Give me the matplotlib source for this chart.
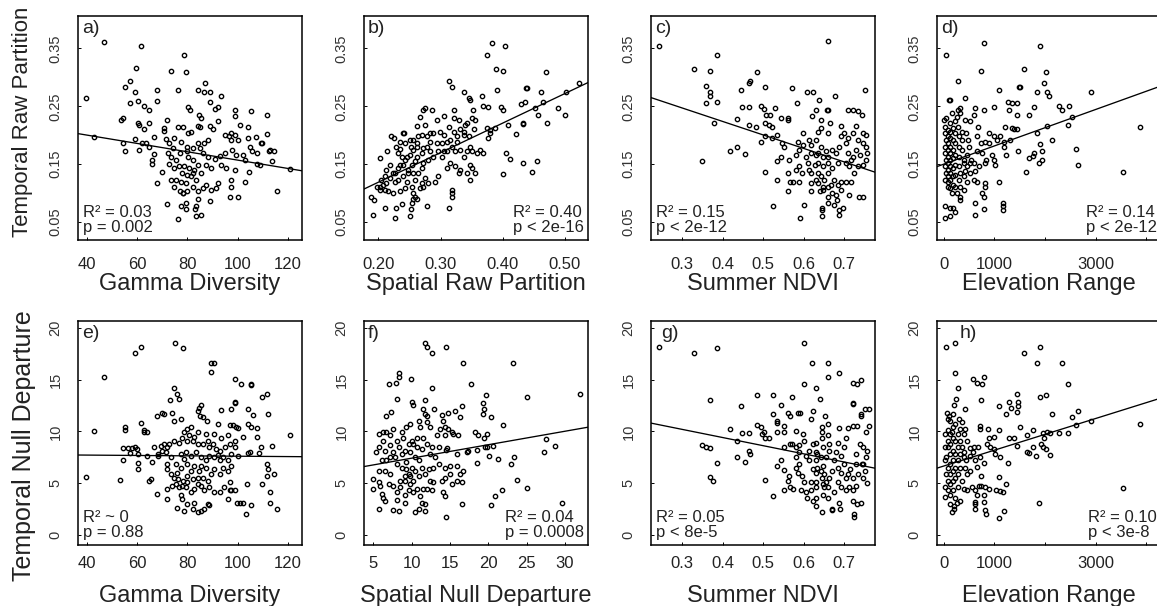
"""
Temporal vs spatial partition scatter grid (8 panels, regression lines)
"""

import matplotlib.pyplot as plt
import numpy as np

plt.rcParams['font.family'] = ['Liberation Sans', 'DejaVu Sans']

# --- data (x, y) ---
pts_a = np.array([
    (39.5, 0.264), (42.7, 0.197), (46.8, 0.361), (55.2, 0.284), (57.2, 0.294), (59.5, 0.316), (59.2, 0.274),
    (57.2, 0.255), (60.3, 0.259), (61.5, 0.355), (62.6, 0.250), (64.6, 0.244), (67.7, 0.279), (67.7, 0.260),
    (53.5, 0.226), (54.3, 0.229), (60.3, 0.221), (60.5, 0.218), (62.6, 0.210), (64.6, 0.221), (54.3, 0.186),
    (55.2, 0.172), (59.2, 0.193), (60.5, 0.174), (61.8, 0.186), (63.5, 0.186), (64.6, 0.180), (66.6, 0.197),
    (66.8, 0.168), (65.9, 0.157), (65.9, 0.150), (67.7, 0.117), (70.0, 0.136), (71.8, 0.226), (70.7, 0.212),
    (70.7, 0.208), (73.3, 0.311), (76.2, 0.279), (78.5, 0.339), (79.3, 0.310), (72.0, 0.082), (76.2, 0.055),
    (77.5, 0.077), (79.5, 0.072), (79.5, 0.083), (83.5, 0.060), (85.5, 0.063), (83.5, 0.077), (82.8, 0.072),
    (88.9, 0.086), (78.1, 0.100), (84.1, 0.090), (96.9, 0.094), (100.2, 0.093), (115.7, 0.104), (120.9, 0.142),
    (111.5, 0.235), (111.5, 0.202), (105.2, 0.242), (99.1, 0.244), (99.1, 0.233), (101.1, 0.218), (104.1, 0.215),
    (93.4, 0.267), (92.3, 0.248), (91.0, 0.246), (89.0, 0.258), (87.0, 0.290), (89.0, 0.275), (86.6, 0.275),
    (84.3, 0.279), (80.3, 0.249), (81.0, 0.244), (84.6, 0.235), (85.5, 0.229), (90.2, 0.210), (89.1, 0.216),
    (92.3, 0.225), (85.1, 0.215), (84.0, 0.216), (80.3, 0.203), (81.2, 0.205), (78.1, 0.214), (76.2, 0.215),
    (74.8, 0.195), (77.5, 0.189), (72.8, 0.186), (71.5, 0.193), (74.2, 0.178), (72.2, 0.169), (73.5, 0.163),
    (75.5, 0.157), (72.8, 0.151), (77.0, 0.169), (79.7, 0.172), (80.3, 0.163), (82.3, 0.157), (84.3, 0.186),
    (85.0, 0.178), (86.3, 0.169), (88.3, 0.163), (91.0, 0.159), (93.0, 0.164), (95.0, 0.170), (97.7, 0.175),
    (96.4, 0.198), (95.0, 0.201), (98.9, 0.201), (100.3, 0.192), (102.3, 0.166), (104.9, 0.180), (105.6, 0.172),
    (107.2, 0.197), (109.3, 0.186), (109.6, 0.187), (112.3, 0.172), (114.6, 0.172), (113.6, 0.155), (108.9, 0.149),
    (107.6, 0.151), (104.4, 0.136), (102.8, 0.120), (99.1, 0.140), (97.4, 0.123), (97.2, 0.110), (92.0, 0.118),
    (91.4, 0.108), (89.4, 0.106), (87.3, 0.114), (85.4, 0.134), (83.4, 0.123), (81.3, 0.129), (79.3, 0.117),
    (77.3, 0.120), (75.3, 0.123), (73.3, 0.123), (74.6, 0.111), (77.1, 0.103), (78.4, 0.101), (80.0, 0.103),
    (82.0, 0.111), (84.0, 0.103), (86.0, 0.108), (87.4, 0.149), (89.4, 0.143), (93.4, 0.149), (95.4, 0.143),
    (99.4, 0.166), (78.7, 0.146), (80.7, 0.143), (82.7, 0.140), (84.0, 0.149), (78.0, 0.134), (80.0, 0.131),
    (82.0, 0.134), (76.7, 0.146), (74.6, 0.143), (80.0, 0.180), (82.0, 0.178), (86.6, 0.186), (88.0, 0.192),
    (97.4, 0.192), (97.2, 0.203), (104.1, 0.195), (112.8, 0.175), (107.6, 0.169), (102.9, 0.157),
])

pts_b = np.array([
    (0.191, 0.063), (0.193, 0.088), (0.189, 0.094), (0.211, 0.074), (0.227, 0.057), (0.228, 0.074), (0.238, 0.081),
    (0.251, 0.060), (0.252, 0.072), (0.254, 0.083), (0.256, 0.090), (0.279, 0.077), (0.314, 0.074), (0.318, 0.106),
    (0.318, 0.100), (0.318, 0.094), (0.198, 0.111), (0.203, 0.106), (0.211, 0.106), (0.216, 0.103), (0.224, 0.100),
    (0.235, 0.103), (0.243, 0.109), (0.256, 0.100), (0.259, 0.094), (0.262, 0.090), (0.267, 0.109), (0.272, 0.111),
    (0.202, 0.160), (0.214, 0.173), (0.221, 0.198), (0.225, 0.196), (0.240, 0.203), (0.242, 0.203), (0.235, 0.189),
    (0.243, 0.186), (0.229, 0.180), (0.219, 0.149), (0.213, 0.140), (0.211, 0.130), (0.219, 0.126), (0.227, 0.120),
    (0.224, 0.134), (0.231, 0.143), (0.240, 0.149), (0.238, 0.163), (0.246, 0.163), (0.251, 0.166), (0.256, 0.175),
    (0.252, 0.180), (0.262, 0.186), (0.264, 0.198), (0.270, 0.201), (0.278, 0.198), (0.283, 0.203), (0.288, 0.203),
    (0.275, 0.218), (0.262, 0.216), (0.267, 0.232), (0.272, 0.244), (0.275, 0.247), (0.286, 0.244), (0.294, 0.226),
    (0.306, 0.233), (0.313, 0.214), (0.321, 0.244), (0.321, 0.229), (0.329, 0.226), (0.331, 0.210), (0.337, 0.206),
    (0.339, 0.218), (0.342, 0.221), (0.353, 0.210), (0.355, 0.226), (0.350, 0.229), (0.352, 0.244), (0.347, 0.261),
    (0.345, 0.264), (0.338, 0.275), (0.313, 0.294), (0.318, 0.284), (0.366, 0.267), (0.369, 0.251), (0.377, 0.249),
    (0.390, 0.278), (0.374, 0.339), (0.382, 0.360), (0.403, 0.355), (0.389, 0.315), (0.401, 0.311), (0.397, 0.248),
    (0.401, 0.244), (0.409, 0.218), (0.388, 0.212), (0.380, 0.209), (0.374, 0.212), (0.406, 0.170), (0.412, 0.159),
    (0.401, 0.133), (0.433, 0.152), (0.447, 0.136), (0.455, 0.156), (0.422, 0.202), (0.432, 0.222), (0.433, 0.219),
    (0.429, 0.254), (0.436, 0.258), (0.437, 0.281), (0.439, 0.281), (0.461, 0.275), (0.470, 0.310), (0.471, 0.222),
    (0.457, 0.235), (0.452, 0.247), (0.464, 0.258), (0.489, 0.247), (0.500, 0.235), (0.502, 0.274), (0.523, 0.290),
    (0.363, 0.175), (0.369, 0.169), (0.380, 0.203), (0.377, 0.195), (0.358, 0.169), (0.350, 0.172), (0.347, 0.149),
    (0.350, 0.143), (0.331, 0.140), (0.329, 0.134), (0.323, 0.146), (0.315, 0.152), (0.310, 0.143), (0.302, 0.163),
    (0.305, 0.172), (0.296, 0.172), (0.288, 0.163), (0.283, 0.172), (0.280, 0.157), (0.272, 0.152), (0.270, 0.143),
    (0.264, 0.134), (0.256, 0.134), (0.248, 0.134), (0.240, 0.130), (0.232, 0.123), (0.227, 0.134), (0.296, 0.129),
    (0.291, 0.120), (0.280, 0.117), (0.275, 0.126), (0.270, 0.117), (0.310, 0.172), (0.310, 0.189), (0.302, 0.186),
    (0.294, 0.186), (0.305, 0.201), (0.315, 0.192), (0.318, 0.180), (0.323, 0.172), (0.331, 0.175), (0.337, 0.163),
    (0.342, 0.172), (0.347, 0.180), (0.326, 0.189), (0.326, 0.198), (0.337, 0.201), (0.345, 0.198), (0.321, 0.206),
    (0.299, 0.206), (0.283, 0.189), (0.278, 0.180), (0.272, 0.178), (0.270, 0.169), (0.262, 0.163), (0.259, 0.155),
    (0.254, 0.149), (0.248, 0.140), (0.243, 0.157), (0.235, 0.149), (0.232, 0.169), (0.235, 0.176), (0.251, 0.192),
    (0.256, 0.192), (0.262, 0.180), (0.355, 0.134), (0.347, 0.123), (0.342, 0.134), (0.246, 0.120), (0.254, 0.111),
    (0.259, 0.123), (0.213, 0.118), (0.208, 0.114), (0.205, 0.123), (0.202, 0.111),
])

pts_c = np.array([
    (0.242, 0.355), (0.329, 0.315), (0.368, 0.311), (0.387, 0.339), (0.358, 0.285), (0.368, 0.274), (0.369, 0.267),
    (0.387, 0.258), (0.358, 0.255), (0.378, 0.222), (0.350, 0.156), (0.417, 0.172), (0.436, 0.180), (0.454, 0.168),
    (0.436, 0.228), (0.446, 0.279), (0.465, 0.291), (0.467, 0.294), (0.484, 0.310), (0.504, 0.283), (0.447, 0.249),
    (0.465, 0.248), (0.465, 0.218), (0.483, 0.215), (0.494, 0.251), (0.502, 0.246), (0.506, 0.235), (0.518, 0.235),
    (0.530, 0.247), (0.504, 0.221), (0.514, 0.218), (0.522, 0.215), (0.494, 0.189), (0.504, 0.198), (0.522, 0.195),
    (0.533, 0.201), (0.543, 0.229), (0.561, 0.229), (0.562, 0.226), (0.572, 0.281), (0.583, 0.256), (0.609, 0.275),
    (0.622, 0.275), (0.638, 0.261), (0.659, 0.362), (0.657, 0.244), (0.659, 0.244), (0.678, 0.267), (0.630, 0.244),
    (0.620, 0.233), (0.642, 0.227), (0.664, 0.222), (0.693, 0.216), (0.709, 0.244), (0.722, 0.243), (0.734, 0.242),
    (0.743, 0.235), (0.751, 0.279), (0.730, 0.216), (0.504, 0.136), (0.523, 0.077), (0.533, 0.123), (0.547, 0.186),
    (0.552, 0.180), (0.535, 0.155), (0.543, 0.163), (0.562, 0.134), (0.565, 0.120), (0.562, 0.103), (0.573, 0.120),
    (0.591, 0.057), (0.600, 0.080), (0.589, 0.120), (0.597, 0.134), (0.618, 0.118), (0.581, 0.166), (0.589, 0.175),
    (0.585, 0.189), (0.598, 0.203), (0.598, 0.183), (0.614, 0.192), (0.606, 0.163), (0.610, 0.152), (0.614, 0.140),
    (0.627, 0.149), (0.635, 0.134), (0.635, 0.117), (0.639, 0.103), (0.647, 0.111), (0.644, 0.074), (0.644, 0.061),
    (0.645, 0.070), (0.659, 0.083), (0.661, 0.094), (0.676, 0.080), (0.682, 0.088), (0.688, 0.071), (0.698, 0.074),
    (0.688, 0.063), (0.669, 0.101), (0.680, 0.097), (0.692, 0.106), (0.713, 0.097), (0.736, 0.094), (0.746, 0.094),
    (0.635, 0.206), (0.642, 0.212), (0.630, 0.192), (0.642, 0.180), (0.655, 0.172), (0.659, 0.203), (0.659, 0.163),
    (0.659, 0.152), (0.659, 0.134), (0.671, 0.143), (0.680, 0.169), (0.688, 0.180), (0.692, 0.198), (0.700, 0.203),
    (0.705, 0.186), (0.709, 0.169), (0.705, 0.152), (0.713, 0.146), (0.721, 0.163), (0.730, 0.175), (0.733, 0.192),
    (0.746, 0.203), (0.754, 0.201), (0.754, 0.180), (0.756, 0.169), (0.754, 0.157), (0.746, 0.149), (0.733, 0.146),
    (0.725, 0.134), (0.717, 0.120), (0.705, 0.120), (0.692, 0.120), (0.684, 0.114), (0.676, 0.123), (0.667, 0.114),
    (0.651, 0.123), (0.647, 0.146), (0.635, 0.152), (0.618, 0.169), (0.647, 0.163), (0.630, 0.166), (0.618, 0.183),
    (0.635, 0.169), (0.589, 0.146), (0.581, 0.140), (0.564, 0.157), (0.618, 0.134), (0.630, 0.123), (0.642, 0.129),
    (0.659, 0.111), (0.647, 0.106), (0.618, 0.103), (0.746, 0.186), (0.738, 0.166), (0.717, 0.157), (0.709, 0.195),
    (0.721, 0.203), (0.684, 0.152), (0.671, 0.175),
])

pts_d = np.array([
    (53, 0.339), (790, 0.360), (1895, 0.355), (744, 0.311), (276, 0.294), (112, 0.261), (1579, 0.315),
    (2020, 0.310), (1974, 0.290), (1842, 0.275), (2040, 0.275), (2072, 0.267), (1480, 0.283), (1500, 0.284),
    (1086, 0.279), (2908, 0.275), (3869, 0.215), (3533, 0.136), (2645, 0.149), (2619, 0.176), (2139, 0.192),
    (1908, 0.185), (1941, 0.172), (1776, 0.169), (1763, 0.164), (1678, 0.160), (1941, 0.157), (1875, 0.152),
    (1632, 0.136), (1842, 0.203), (2040, 0.216), (1776, 0.249), (1678, 0.235), (1447, 0.235), (1447, 0.255),
    (1349, 0.256), (1263, 0.258), (1283, 0.244), (1447, 0.210), (1349, 0.212), (1217, 0.214), (1382, 0.210),
    (1316, 0.192), (1461, 0.172), (1237, 0.166), (1184, 0.180), (1119, 0.198), (1184, 0.189), (1000, 0.248),
    (790, 0.244), (625, 0.247), (592, 0.235), (428, 0.264), (316, 0.247), (276, 0.244), (118, 0.261),
    (2270, 0.251), (2336, 0.244), (2467, 0.251), (2454, 0.218), (2533, 0.231), (888, 0.203), (987, 0.198),
    (1053, 0.192), (822, 0.189), (888, 0.186), (658, 0.199), (730, 0.186), (658, 0.172), (757, 0.169),
    (954, 0.166), (987, 0.157), (1020, 0.149), (1086, 0.120), (842, 0.157), (822, 0.152), (592, 0.152),
    (625, 0.138), (592, 0.123), (658, 0.120), (822, 0.117), (822, 0.111), (757, 0.100), (790, 0.094),
    (625, 0.083), (625, 0.063), (803, 0.072), (1171, 0.083), (1171, 0.077), (1171, 0.071), (33, 0.077),
    (118, 0.074), (33, 0.057), (132, 0.060), (184, 0.074), (217, 0.068), (329, 0.088), (263, 0.100),
    (164, 0.100), (79, 0.111), (329, 0.111), (395, 0.106), (461, 0.120), (526, 0.134), (461, 0.146),
    (526, 0.152), (395, 0.157), (329, 0.134), (428, 0.138), (13, 0.226), (33, 0.215), (33, 0.203),
    (53, 0.192), (33, 0.180), (33, 0.169), (53, 0.157), (33, 0.146), (53, 0.134), (33, 0.123),
    (79, 0.209), (79, 0.198), (79, 0.186), (79, 0.175), (79, 0.163), (79, 0.152), (79, 0.140),
    (79, 0.129), (79, 0.120), (132, 0.221), (132, 0.206), (132, 0.195), (132, 0.180), (132, 0.169),
    (132, 0.157), (132, 0.146), (132, 0.134), (132, 0.123), (132, 0.109), (184, 0.212), (184, 0.192),
    (184, 0.175), (184, 0.160), (184, 0.143), (184, 0.129), (184, 0.114), (230, 0.224), (230, 0.203),
    (230, 0.186), (230, 0.166), (230, 0.149), (230, 0.132), (230, 0.111), (263, 0.232), (276, 0.215),
    (296, 0.198), (296, 0.180), (296, 0.163), (296, 0.146), (296, 0.123), (329, 0.094), (362, 0.206),
    (362, 0.192), (362, 0.175), (395, 0.152), (395, 0.129), (448, 0.203), (474, 0.192), (494, 0.180),
    (461, 0.166), (540, 0.157), (513, 0.224), (428, 0.226), (329, 0.238), (164, 0.238), (53, 0.229),
    (671, 0.215), (691, 0.146),
])

pts_e = np.array([
    (39.5, 5.6), (42.7, 10.0), (46.8, 15.2), (53.2, 5.3), (54.2, 7.2), (54.2, 8.4), (55.2, 10.4),
    (55.2, 10.1), (56.5, 8.4), (57.8, 8.4), (59.2, 8.5), (59.9, 8.3), (60.3, 7.8), (60.3, 6.9),
    (60.3, 6.4), (57.2, 7.9), (61.5, 10.8), (62.6, 9.9), (63.9, 9.9), (62.6, 10.1), (63.9, 7.6),
    (64.6, 5.2), (65.5, 5.4), (65.9, 7.0), (66.6, 8.5), (67.7, 4.0), (67.7, 11.5), (70.0, 11.8),
    (70.6, 11.7), (73.0, 13.0), (74.6, 14.2), (74.0, 11.8), (74.9, 18.5), (78.3, 18.0), (59.2, 17.6),
    (61.5, 18.1), (75.7, 13.6), (76.6, 13.1), (77.3, 11.2), (74.6, 11.0), (72.0, 4.4), (72.0, 3.5),
    (76.0, 2.6), (78.7, 2.3), (82.0, 2.5), (84.0, 2.2), (85.4, 2.3), (86.7, 2.5), (88.1, 3.0),
    (88.7, 2.9), (82.7, 3.1), (80.0, 3.0), (78.0, 3.5), (77.3, 3.9), (89.4, 16.6), (90.5, 16.6),
    (89.4, 15.7), (98.8, 15.1), (101.2, 14.6), (105.2, 14.6), (105.2, 14.5), (109.5, 13.3), (111.5, 13.6),
    (112.2, 11.7), (104.2, 12.2), (106.2, 11.6), (98.8, 12.7), (99.1, 12.8), (97.4, 12.2), (93.4, 12.1),
    (85.4, 12.5), (84.7, 12.3), (84.0, 12.0), (85.1, 11.5), (86.0, 11.4), (87.8, 11.0), (92.0, 10.7),
    (96.8, 10.6), (98.1, 10.6), (99.2, 10.4), (100.1, 10.3), (104.2, 10.7), (105.2, 10.4), (107.5, 10.3),
    (107.5, 9.5), (102.1, 9.5), (96.1, 9.6), (93.4, 9.4), (90.7, 9.7), (87.4, 9.7), (84.0, 9.9),
    (81.3, 10.4), (80.0, 10.2), (80.7, 9.6), (78.7, 9.9), (82.4, 9.5), (120.9, 9.6), (113.6, 8.6),
    (109.2, 8.5), (104.8, 8.0), (104.2, 7.9), (108.5, 7.9), (111.5, 6.8), (112.2, 6.4), (114.6, 5.9),
    (111.5, 5.7), (109.5, 4.9), (112.9, 4.1), (112.8, 3.1), (115.7, 2.5), (103.5, 4.9), (103.2, 2.0),
    (100.8, 3.1), (102.1, 3.1), (105.2, 2.9), (99.8, 3.1), (96.1, 3.5), (97.4, 4.3), (98.8, 4.3),
    (96.8, 5.1), (96.8, 4.3), (94.5, 4.6), (92.8, 4.1), (90.7, 4.1), (88.7, 4.6), (86.7, 4.3),
    (85.4, 4.7), (84.0, 4.9), (82.7, 4.4), (81.3, 4.1), (79.3, 4.6), (78.0, 4.7), (76.6, 4.6),
    (75.3, 4.9), (74.0, 4.7), (74.6, 5.5), (73.3, 5.9), (72.0, 6.4), (72.0, 6.8), (73.3, 7.5),
    (71.3, 8.0), (72.0, 8.5), (72.6, 8.8), (70.6, 8.8), (69.3, 8.6), (70.0, 8.1), (68.2, 7.8),
    (68.2, 7.6), (74.6, 9.1), (76.6, 8.9), (78.0, 9.4), (80.0, 9.1), (82.0, 9.1), (84.0, 8.8),
    (86.0, 8.8), (88.1, 9.1), (90.1, 8.8), (91.4, 8.3), (92.8, 8.1), (94.8, 8.5), (96.8, 8.8),
    (98.8, 9.1), (98.8, 8.5), (97.4, 7.8), (96.1, 7.2), (97.4, 6.7), (96.1, 6.2), (94.1, 6.5),
    (92.8, 5.9), (90.7, 6.4), (89.4, 5.9), (88.1, 5.2), (86.0, 5.5), (84.7, 6.2), (82.7, 6.7),
    (81.3, 6.2), (80.0, 6.8), (78.7, 7.3), (77.3, 6.5), (76.0, 6.0), (75.3, 6.8), (77.3, 7.8),
    (79.3, 8.0), (81.3, 7.6), (83.4, 8.0), (85.4, 7.5), (87.4, 7.2), (88.7, 7.6), (90.7, 7.5),
    (92.8, 7.2), (94.1, 7.5), (87.4, 6.5), (85.4, 6.7), (80.0, 5.7), (82.0, 5.4), (84.0, 5.5),
    (78.4, 5.2), (76.2, 5.4), (80.0, 5.1), (88.7, 8.5), (92.1, 7.7), (100.1, 7.6),
])

pts_f = np.array([
    (11.7, 18.5), (12.0, 18.1), (12.7, 17.6), (14.5, 18.1), (16.7, 16.6), (23.2, 16.6), (17.7, 14.6),
    (19.7, 13.5), (25.1, 13.3), (32.0, 13.6), (8.4, 15.6), (8.3, 15.2), (8.0, 14.7), (7.0, 14.6),
    (9.9, 15.1), (12.6, 14.2), (8.1, 13.1), (10.1, 12.8), (10.2, 12.5), (11.7, 13.0), (11.5, 12.2),
    (11.7, 11.7), (12.9, 12.2), (12.0, 11.5), (7.3, 11.9), (6.7, 11.5), (13.9, 11.6), (14.8, 11.8),
    (15.7, 12.0), (16.5, 12.4), (16.3, 11.4), (19.3, 12.7), (19.4, 12.2), (19.3, 11.7), (20.3, 11.4),
    (21.9, 10.6), (14.1, 11.0), (14.3, 10.4), (13.7, 10.2), (14.8, 10.2), (15.2, 9.9), (15.4, 9.7),
    (16.1, 9.6), (13.3, 9.6), (14.3, 9.6), (13.5, 8.5), (14.6, 8.4), (14.5, 8.2), (15.9, 7.8),
    (17.2, 8.0), (17.4, 8.1), (18.5, 8.2), (18.3, 9.9), (18.7, 9.6), (19.4, 9.4), (19.8, 9.7),
    (19.5, 8.5), (19.8, 8.5), (20.6, 8.6), (20.1, 7.6), (21.2, 7.3), (18.5, 6.9), (23.3, 7.5),
    (22.9, 6.8), (23.8, 5.3), (25.1, 4.5), (27.2, 8.0), (27.5, 9.3), (28.7, 8.6), (29.6, 3.1),
    (21.8, 4.3), (20.9, 3.8), (20.3, 2.9), (16.5, 3.0), (14.5, 1.7), (14.1, 4.1), (14.3, 3.8),
    (13.9, 5.2), (14.3, 5.5), (15.0, 5.9), (15.2, 4.9), (15.9, 5.2), (16.3, 5.9), (16.7, 6.2),
    (16.5, 5.1), (15.9, 6.7), (15.0, 6.7), (14.3, 6.5), (5.0, 5.4), (5.0, 4.4), (5.7, 5.1),
    (5.9, 4.7), (6.1, 4.0), (6.3, 3.6), (6.5, 3.3), (5.8, 2.5), (7.6, 2.4), (8.4, 2.3),
    (8.1, 3.4), (9.1, 3.1), (10.4, 2.2), (10.9, 2.5), (11.3, 3.1), (11.7, 2.3), (11.7, 3.0),
    (5.4, 8.0), (5.7, 8.5), (5.7, 9.7), (6.3, 9.9), (6.7, 9.9), (7.2, 9.6), (7.6, 10.2),
    (5.7, 6.2), (6.1, 7.2), (6.7, 7.2), (7.2, 7.5), (6.5, 6.2), (7.2, 5.9), (7.0, 4.9),
    (7.6, 4.7), (8.1, 4.1), (8.5, 4.6), (9.1, 3.9), (8.5, 5.2), (9.1, 5.2), (9.6, 4.3),
    (9.8, 4.9), (10.2, 4.1), (10.7, 4.4), (11.1, 3.8), (11.5, 4.4), (12.0, 4.4), (12.6, 4.3),
    (12.4, 5.2), (12.8, 5.1), (11.7, 5.9), (11.3, 6.5), (10.9, 7.2), (10.4, 7.5), (10.0, 6.5),
    (9.6, 5.9), (9.1, 5.7), (8.7, 6.5), (8.1, 6.8), (7.8, 7.5), (7.6, 8.0), (8.3, 8.5),
    (8.1, 9.1), (8.9, 9.4), (9.3, 10.4), (9.8, 10.7), (10.9, 11.0), (11.1, 10.4), (12.0, 10.9),
    (12.4, 10.4), (11.5, 9.4), (12.0, 8.8), (12.6, 8.5), (12.4, 7.8), (13.0, 7.5), (13.5, 6.8),
    (12.8, 6.5), (12.2, 6.4), (11.3, 8.3), (10.7, 8.5), (10.2, 8.8), (9.6, 8.8), (9.1, 8.1),
    (8.7, 7.8), (9.3, 7.0), (9.8, 8.0), (10.0, 9.1), (10.7, 9.4), (8.7, 9.9), (7.2, 8.7),
    (6.5, 8.1), (6.3, 9.1), (10.2, 5.2), (10.9, 5.7), (10.4, 6.2), (9.8, 5.7), (9.3, 6.4),
])

pts_g = np.array([
    (0.242, 18.1), (0.329, 17.6), (0.387, 18.0), (0.368, 13.0), (0.350, 8.7), (0.360, 8.5), (0.369, 8.4),
    (0.387, 6.9), (0.369, 5.6), (0.377, 5.2), (0.417, 10.2), (0.436, 9.1), (0.447, 9.8), (0.465, 9.8),
    (0.436, 7.5), (0.454, 7.0), (0.465, 8.1), (0.467, 7.8), (0.446, 12.4), (0.484, 13.5), (0.523, 13.5),
    (0.484, 10.6), (0.494, 10.4), (0.502, 9.9), (0.498, 9.7), (0.505, 9.4), (0.515, 9.4), (0.523, 11.7),
    (0.533, 11.0), (0.533, 10.8), (0.552, 10.5), (0.535, 9.9), (0.552, 9.9), (0.543, 12.5), (0.562, 11.8),
    (0.567, 11.5), (0.572, 13.3), (0.585, 11.8), (0.591, 11.8), (0.600, 18.5), (0.601, 14.6), (0.620, 16.6),
    (0.630, 14.2), (0.641, 13.1), (0.659, 16.6), (0.659, 15.2), (0.688, 15.6), (0.722, 14.7), (0.731, 14.6),
    (0.741, 15.0), (0.722, 12.7), (0.722, 12.6), (0.751, 12.2), (0.760, 12.2), (0.741, 11.7), (0.741, 11.5),
    (0.622, 12.0), (0.619, 11.2), (0.653, 11.5), (0.659, 10.7), (0.644, 10.4), (0.644, 9.9), (0.644, 9.4),
    (0.659, 9.6), (0.688, 10.3), (0.709, 10.3), (0.722, 10.5), (0.731, 10.5), (0.760, 10.5), (0.754, 9.9),
    (0.581, 10.0), (0.598, 9.7), (0.600, 9.1), (0.622, 8.8), (0.630, 8.9), (0.565, 8.8), (0.552, 8.5),
    (0.570, 8.8), (0.581, 8.5), (0.589, 8.7), (0.523, 3.8), (0.505, 5.3), (0.533, 6.7), (0.543, 7.2),
    (0.552, 6.3), (0.564, 5.7), (0.562, 5.2), (0.552, 4.3), (0.565, 4.6), (0.573, 4.4), (0.581, 6.5),
    (0.586, 6.0), (0.589, 6.8), (0.597, 5.7), (0.601, 5.1), (0.594, 4.3), (0.606, 4.1), (0.609, 3.6),
    (0.618, 5.1), (0.618, 4.3), (0.624, 3.3), (0.630, 2.8), (0.644, 2.2), (0.630, 3.6), (0.647, 3.9),
    (0.651, 4.6), (0.659, 4.6), (0.669, 2.5), (0.671, 2.4), (0.659, 3.6), (0.688, 3.1), (0.690, 2.5),
    (0.723, 2.0), (0.723, 1.7), (0.722, 3.3), (0.731, 3.0), (0.741, 3.1), (0.676, 4.1), (0.684, 5.1),
    (0.692, 4.6), (0.705, 4.3), (0.713, 4.6), (0.730, 4.7), (0.722, 4.3), (0.746, 5.5), (0.756, 5.0),
    (0.751, 6.2), (0.743, 6.8), (0.754, 7.5), (0.756, 8.1), (0.746, 8.5), (0.738, 8.8), (0.730, 7.8),
    (0.730, 6.8), (0.715, 6.4), (0.709, 5.9), (0.700, 6.8), (0.692, 7.6), (0.700, 8.5), (0.705, 9.4),
    (0.684, 8.9), (0.680, 8.0), (0.676, 7.2), (0.671, 6.2), (0.663, 5.5), (0.651, 5.9), (0.647, 6.7),
    (0.655, 7.5), (0.663, 8.1), (0.663, 8.8), (0.647, 8.5), (0.634, 7.8), (0.642, 7.5), (0.630, 7.2),
    (0.634, 6.5), (0.630, 6.0), (0.622, 6.4), (0.614, 7.2), (0.606, 7.6), (0.614, 8.1), (0.630, 8.0),
    (0.642, 6.2), (0.644, 5.5), (0.630, 5.1), (0.647, 4.9), (0.655, 5.1), (0.630, 4.6), (0.746, 6.8),
    (0.733, 5.9), (0.721, 5.5), (0.705, 5.5), (0.692, 6.0), (0.684, 6.5), (0.589, 8.0), (0.581, 7.5),
])

pts_h = np.array([
    (53, 18.1), (217, 18.5), (230, 15.6), (276, 14.2), (250, 13.1), (211, 12.5), (184, 11.7),
    (99, 11.5), (132, 11.0), (428, 12.2), (579, 15.1), (658, 14.7), (757, 14.6), (790, 15.2),
    (744, 13.0), (724, 10.5), (711, 10.2), (869, 10.2), (987, 9.5), (1086, 12.4), (1237, 11.7),
    (1283, 12.8), (1329, 12.3), (1447, 13.6), (1461, 12.8), (1461, 12.4), (1447, 11.9), (1513, 10.4),
    (1283, 9.4), (1382, 9.4), (1447, 8.6), (1086, 10.1), (888, 9.4), (855, 8.8), (908, 8.5),
    (987, 8.3), (1020, 7.8), (1112, 7.5), (1263, 6.9), (1579, 17.6), (1842, 16.6), (1895, 18.1),
    (2336, 16.6), (2448, 14.6), (1908, 13.3), (2020, 13.5), (2139, 11.7), (2533, 11.4), (2645, 12.0),
    (2619, 10.6), (2908, 11.0), (3869, 10.7), (3533, 4.5), (1875, 3.1), (1645, 9.6), (1763, 10.1),
    (1954, 9.8), (1974, 9.4), (2040, 9.9), (2092, 9.8), (2270, 9.8), (2454, 9.8), (1645, 8.0),
    (1678, 7.9), (1763, 8.5), (1829, 7.6), (1921, 8.8), (1961, 8.5), (2027, 8.3), (2092, 7.7),
    (1086, 5.6), (1237, 4.9), (1119, 4.2), (1171, 4.1), (1040, 4.3), (1184, 2.3), (1086, 1.6),
    (842, 2.0), (822, 2.4), (803, 3.2), (625, 2.5), (625, 3.0), (625, 3.2), (395, 4.4),
    (461, 4.3), (559, 4.6), (625, 4.3), (691, 4.7), (737, 4.7), (822, 4.6), (888, 4.4),
    (803, 3.9), (658, 3.9), (737, 5.7), (658, 6.6), (625, 7.2), (724, 7.5), (803, 6.9),
    (671, 8.5), (605, 8.5), (526, 8.4), (513, 7.6), (448, 7.2), (428, 6.5), (461, 5.9),
    (526, 6.2), (362, 5.2), (329, 3.3), (263, 3.1), (197, 2.8), (164, 2.2), (197, 2.5),
    (33, 3.7), (33, 4.6), (53, 5.9), (33, 7.2), (33, 8.5), (33, 9.7), (53, 7.5),
    (79, 6.5), (79, 5.2), (79, 4.3), (79, 8.5), (79, 9.1), (79, 10.1), (132, 9.7),
    (132, 8.8), (132, 7.8), (132, 6.8), (132, 5.9), (132, 4.9), (132, 3.9), (132, 3.0),
    (184, 10.4), (184, 9.4), (184, 8.1), (184, 7.2), (184, 6.2), (184, 5.2), (184, 4.3),
    (230, 10.7), (230, 9.1), (230, 7.8), (230, 6.5), (230, 5.5), (230, 3.6), (276, 9.7),
    (276, 8.5), (276, 7.2), (276, 5.9), (276, 4.6), (329, 10.2), (329, 9.1), (329, 7.8),
    (329, 6.5), (362, 8.5), (395, 7.5), (395, 9.7), (428, 10.2), (362, 10.9), (296, 11.2),
    (79, 11.2), (66, 11.8), (164, 9.9), (461, 9.1), (408, 8.0), (579, 8.0),
])

# regression lines: (intercept, slope)
fits = [(0.229, -0.00072), (0.0166, 0.511), (0.317, -0.233), (0.150, 3.15e-5),
        (7.78, -0.0018), (6.11, 0.130), (12.55, -7.87), (6.65, 0.00153)]

stats = ['R² = 0.03\np = 0.002', 'R² = 0.40\np < 2e-16', 'R² = 0.15\np < 2e-12', 'R² = 0.14\np < 2e-12',
         'R² ~ 0\np = 0.88', 'R² = 0.04\np = 0.0008', 'R² = 0.05\np < 8e-5', 'R² = 0.10\np < 3e-8']
stats_right = [False, True, False, True, False, True, False, True]

panel_tags = ['a)', 'b)', 'c)', 'd)', 'e)', 'f)', 'g)', 'h)']
tag_dx = [4, 4, 4, 4, 4, 4, 10, 23]   # px from left border

x_titles = ['Gamma Diversity', 'Spatial Raw Partition', 'Summer NDVI', 'Elevation Range',
            'Gamma Diversity', 'Spatial Null Departure', 'Summer NDVI', 'Elevation Range']
y_titles = ['Temporal Raw Partition', 'Temporal Null Departure']

x_limits = [(36.4, 125.6), (0.177, 0.537), (0.223, 0.776), (-132, 4290),
            (36.4, 125.6), (3.78, 33.0), (0.223, 0.776), (-132, 4290)]
y_limits = [(0.019, 0.406), (-0.97, 20.65)]

x_ticks = [[40, 60, 80, 100, 120], [0.2, 0.3, 0.4, 0.5], [0.3, 0.4, 0.5, 0.6, 0.7], [0, 1000, 2000, 3000, 4000],
           [40, 60, 80, 100, 120], [5, 10, 15, 20, 25, 30], [0.3, 0.4, 0.5, 0.6, 0.7], [0, 1000, 2000, 3000, 4000]]
x_ticklabels = [['40', '60', '80', '100', '120'], ['0.20', '0.30', '0.40', '0.50'],
                ['0.3', '0.4', '0.5', '0.6', '0.7'], ['0', '1000', '', '3000', ''],
                ['40', '60', '80', '100', '120'], ['5', '10', '15', '20', '25', '30'],
                ['0.3', '0.4', '0.5', '0.6', '0.7'], ['0', '1000', '', '3000', '']]
y_ticks = [[0.05, 0.15, 0.25, 0.35], [0, 5, 10, 15, 20]]
y_ticklabels = [['0.05', '0.15', '0.25', '0.35'], ['0', '5', '10', '15', '20']]

all_pts = [pts_a, pts_b, pts_c, pts_d, pts_e, pts_f, pts_g, pts_h]

# --- layout (pixel based) ---
W, H = 1157, 606
fig = plt.figure(figsize=(W / 100, H / 100), dpi=100)
col_left = [78, 364, 651, 937]
row_top = [16, 321]
ax_w, ax_h = 224, 224
x_pad = [12, 8]
xlab_off = [36, 41]

for i, pts in enumerate(all_pts):
    row, col = divmod(i, 4)
    ax = fig.add_axes([col_left[col] / W, 1 - (row_top[row] + ax_h) / H, ax_w / W, ax_h / H])
    ax.plot(pts[:, 0], pts[:, 1], 'o', mfc='none', mec='black', ms=3.1, mew=1.0, ls='none')
    ax.set_xlim(x_limits[i])
    ax.set_ylim(y_limits[row])
    b0, b1 = fits[i]
    ax.axline((0, b0), slope=b1, color='black', lw=0.95)

    for sp in ax.spines.values():
        sp.set_linewidth(1.1)
    ax.set_xticks(x_ticks[i])
    ax.set_xticklabels(x_ticklabels[i])
    ax.set_yticks(y_ticks[row])
    ax.set_yticklabels(y_ticklabels[row])
    ax.tick_params(axis='x', direction='in', length=2.5, width=0.7, labelsize=12,
                   pad=x_pad[row], labelcolor='#222222')
    ax.tick_params(axis='y', direction='in', length=2.5, width=0.7, labelsize=10.5,
                   pad=11, labelcolor='#333333')
    for lab in ax.get_yticklabels():
        lab.set_rotation(90)
        lab.set_va('center')
        lab.set_ha('right')

    ax.annotate(x_titles[i], xy=(0.5, 0), xycoords='axes fraction', xytext=(0, -xlab_off[row]),
                textcoords='offset points', ha='center', va='baseline', fontsize=17, color='#222222')

    ax.annotate(panel_tags[i], xy=(0, 1), xycoords='axes fraction', xytext=(tag_dx[i] * 0.72, -3),
                textcoords='offset points', ha='left', va='top', fontsize=14, color='#222222')

    if stats_right[i]:
        ax.annotate(stats[i], xy=(1, 0), xycoords='axes fraction', xytext=(-3, 3.5),
                    textcoords='offset points', ha='right', va='bottom', multialignment='left',
                    fontsize=12, linespacing=1.05, color='#222222')
    else:
        ax.annotate(stats[i], xy=(0, 0), xycoords='axes fraction', xytext=(3.5, 3.5),
                    textcoords='offset points', ha='left', va='bottom',
                    fontsize=12, linespacing=1.05, color='#222222')

fig.text(23 / W, 1 - 122 / H, y_titles[0], rotation=90, ha='center', va='center', fontsize=16, color='#222222')
fig.text(24 / W, 1 - 446 / H, y_titles[1], rotation=90, ha='center', va='center', fontsize=18, color='#222222')

fig.savefig('out.png', dpi=100)
